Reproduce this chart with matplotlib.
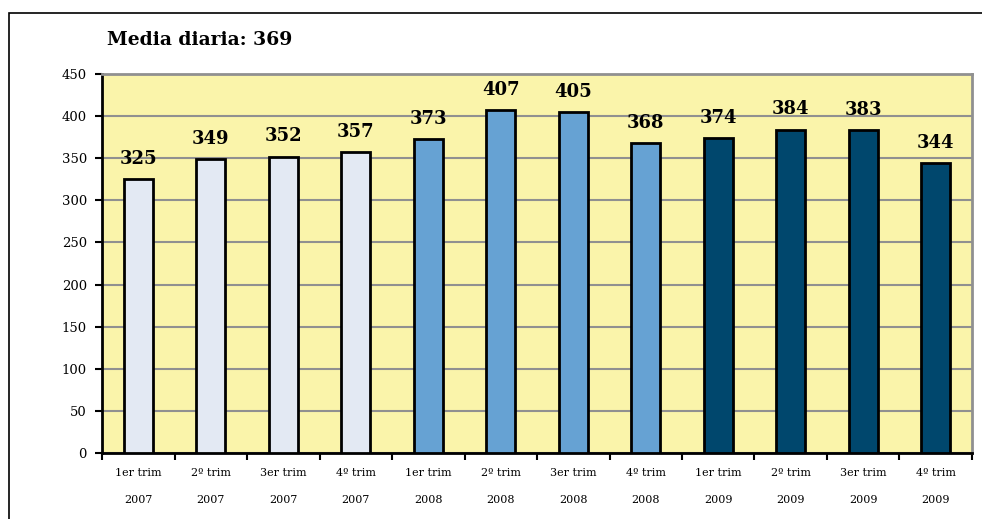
import matplotlib
matplotlib.use("Agg")
import matplotlib.pyplot as plt
from matplotlib.patches import Rectangle
from matplotlib.ticker import FixedLocator, NullFormatter

# datos
trimestres = ["1er trim", "2º trim", "3er trim", "4º trim"] * 3
anios = ["2007"] * 4 + ["2008"] * 4 + ["2009"] * 4
valores = [325, 349, 352, 357, 373, 407, 405, 368, 374, 384, 383, 344]
colores_anio = {"2007": "#E3E9F3", "2008": "#66A2D3", "2009": "#00476D"}
media = 369

plt.rcParams["font.family"] = ["DejaVu Serif"]

fig = plt.figure(figsize=(9.82, 5.19), dpi=100)
ax = fig.add_axes([0.1039, 0.1272, 0.8859, 0.7302])

# marco exterior
fig.patches.append(Rectangle((9 / 982, -0.1), 1.2, 0.975 + 0.1, transform=fig.transFigure,
                             fill=False, edgecolor="black", linewidth=1.2))

ax.set_facecolor("#FAF4AA")
x = list(range(len(valores)))
colores = [colores_anio[a] for a in anios]
ax.bar(x, valores, width=0.4, color=colores, edgecolor="black", linewidth=2, zorder=3)

# etiquetas de valores
for i, v in enumerate(valores):
    ax.annotate(str(v), (i, v), xytext=(0, 8), textcoords="offset points",
                ha="center", va="bottom", fontsize=13, fontweight="bold", zorder=4)

ax.set_ylim(0, 450)
ax.set_xlim(-0.5, len(valores) - 0.5)
ax.set_yticks(range(0, 451, 50))
ax.yaxis.grid(True, color="#909090", linewidth=1.5, zorder=1)
ax.set_axisbelow(True)

# ticks en los limites de categoria, etiquetas centradas
ax.xaxis.set_major_locator(FixedLocator([i - 0.5 for i in range(len(valores) + 1)]))
ax.xaxis.set_major_formatter(NullFormatter())
ax.xaxis.set_minor_locator(FixedLocator(x))
ax.set_xticklabels([f"{t}\n\n{a}" for t, a in zip(trimestres, anios)], minor=True,
                   fontsize=8, linespacing=1.4)
ax.tick_params(axis="x", which="minor", length=0, pad=11)
ax.tick_params(axis="x", which="major", length=5, width=1.5, direction="out")
ax.tick_params(axis="y", length=5, width=1.5, direction="out", labelsize=9.5, pad=6)

ax.spines["left"].set_linewidth(2)
ax.spines["bottom"].set_linewidth(2)
ax.spines["top"].set_color("#909090")
ax.spines["top"].set_linewidth(2)
ax.spines["right"].set_color("#909090")
ax.spines["right"].set_linewidth(2)

fig.text(107 / 982, 1 - 40 / 519, f"Media diaria: {media}", fontsize=13.5, fontweight="bold",
         ha="left", va="center")

fig.savefig("out.png", dpi=100)
